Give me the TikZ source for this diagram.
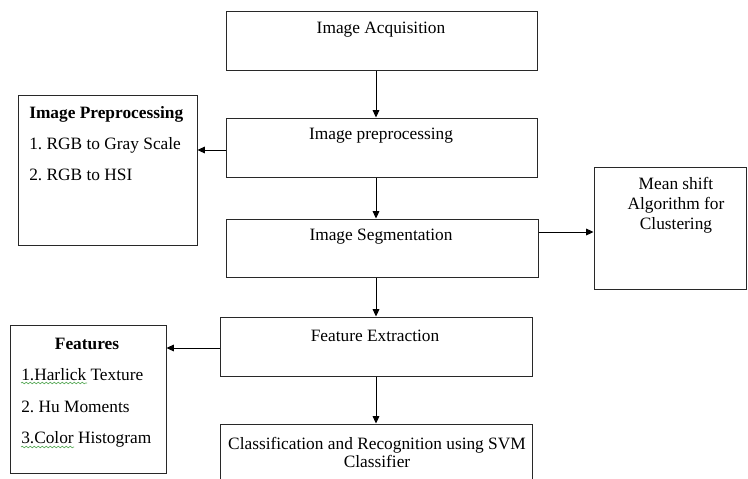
\documentclass[tikz,border=0pt]{standalone}
\usepackage{fontspec}
\setmainfont{Liberation Serif}
\usetikzlibrary{positioning, arrows.meta, decorations.pathmorphing}
\definecolor{boxline}{RGB}{40, 40, 40}
\definecolor{spellgreen}{RGB}{90, 170, 90}
\frenchspacing

\tikzset{
    stagebox/.style={draw=boxline, line width=0.75pt, inner sep=0pt},
    boxtext/.style={inner sep=0pt, font=\fontsize{13}{15}\selectfont},
    flow/.style={draw=black, line width=0.75pt, -{Triangle[length=5.5pt, width=5pt]}},
    spell/.style={draw=spellgreen, line width=0.5pt,
        decorate, decoration={snake, segment length=3pt, amplitude=0.6pt}}
}

\begin{document}
\begin{tikzpicture}[x=0.75pt, y=-0.75pt]

                \useasboundingbox (0, 0) rectangle (748, 478);

                % main column
                \node[stagebox, minimum width=233.25pt, minimum height=43.5pt]
                    (acq) at (381.5, 41) {};
                \node[boxtext] (acqtxt) at (381, 29.5) {Image Acquisition};

                \node[stagebox, minimum width=233.25pt, minimum height=44.25pt]
                    (pre) at (381.5, 147.5) {};
                \node[boxtext] (pretxt) at (381, 135.5) {Image preprocessing};

                \node[stagebox, minimum width=234pt, minimum height=43.5pt]
                    (seg) at (382, 248) {};
                \node[boxtext] (segtxt) at (381, 236.5) {Image Segmentation};

                \node[stagebox, minimum width=234pt, minimum height=44.25pt]
                    (fe) at (376, 346.5) {};
                \node[boxtext] (fetxt) at (375, 335.5) {Feature Extraction};

                \node[stagebox, minimum width=234pt, minimum height=57pt]
                    (cls) at (376, 462) {};
                \node[boxtext, align=center, font=\fontsize{13}{14}\selectfont]
                    (clstxt) at (377, 452.5) {Classification and Recognition using SVM\\Classifier};

                % side boxes
                \node[stagebox, minimum width=134.25pt, minimum height=112.5pt]
                    (ppl) at (107.5, 170) {};
                \node[boxtext, anchor=west, font=\fontsize{13}{15}\selectfont\bfseries]
                    (ppltitle) at (29, 114) {Image Preprocessing};
                \node[boxtext, anchor=west] (pplone) at (29, 145) {1. RGB to Gray Scale};
                \node[boxtext, anchor=west] (ppltwo) at (29, 175) {2. RGB to HSI};

                \node[stagebox, minimum width=114pt, minimum height=91.5pt]
                    (ms) at (670, 228) {};
                \node[boxtext, align=center] (mstxt) at (676, 205)
                    {Mean shift\\Algorithm for\\Clustering};

                \node[stagebox, minimum width=117pt, minimum height=111pt]
                    (feat) at (88, 399) {};
                \node[boxtext, font=\fontsize{13}{15}\selectfont\bfseries]
                    (feattitle) at (87, 344) {Features};
                \node[boxtext, anchor=west] (featone) at (21, 375) {1.Harlick Texture};
                \node[boxtext, anchor=west] (feattwo) at (21, 407) {2. Hu Moments};
                \node[boxtext, anchor=west] (featthree) at (21, 439) {3.Color Histogram};
                \draw[spell] (21, 383) -- (87, 383);
                \draw[spell] (21, 447) -- (74, 447);

                % arrows
                \coordinate (axis) at (376, 0);
                \coordinate (prey) at (0, 150);
                \coordinate (segy) at (0, 232);
                \coordinate (fey) at (0, 348);
                \draw[flow] (acq.south -| axis) -- (pre.north -| axis);
                \draw[flow] (pre.south -| axis) -- (seg.north -| axis);
                \draw[flow] (seg.south -| axis) -- (fe.north -| axis);
                \draw[flow] (fe.south -| axis) -- (cls.north -| axis);
                \draw[flow] (pre.west |- prey) -- (ppl.east |- prey);
                \draw[flow] (seg.east |- segy) -- (ms.west |- segy);
                \draw[flow] (fe.west |- fey) -- (feat.east |- fey);

            \end{tikzpicture}
\end{document}
